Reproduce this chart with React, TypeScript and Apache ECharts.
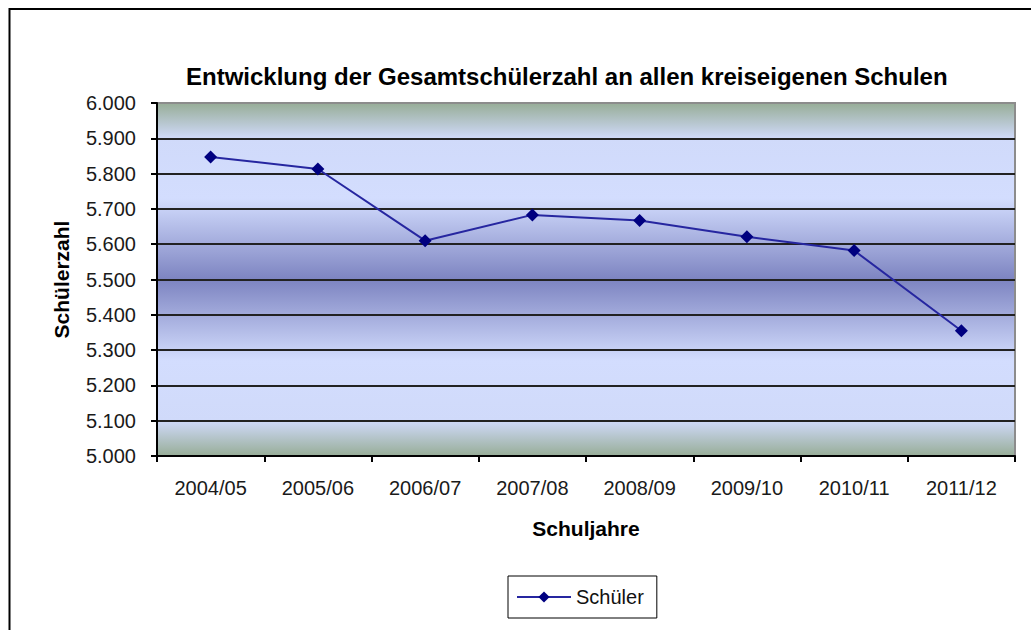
import React, { useEffect, useRef } from "react";
import * as echarts from "echarts";

const categories = ["2004/05", "2005/06", "2006/07", "2007/08", "2008/09", "2009/10", "2010/11", "2011/12"];
const schueler = [5847, 5813, 5610, 5683, 5667, 5621, 5582, 5355];
const yMin = 5000;
const yMax = 6000;
const yStep = 100;

const titleText = "Entwicklung der Gesamtschülerzahl an allen kreiseigenen Schulen";
const xName = "Schuljahre";
const yName = "Schülerzahl";
const seriesName = "Schüler";

const FONT = "'Liberation Sans', Arial, sans-serif";

function fmt(v: number): string {
  const t = Math.floor(v / 1000);
  const r = String(Math.round(v % 1000)).padStart(3, "0");
  return t + "." + r;
}

export default function App() {
  const ref = useRef<HTMLDivElement>(null);
  useEffect(() => {
    if (!ref.current) return;
    const chart = echarts.init(ref.current, undefined, { renderer: "svg" });
    const splitColors: string[] = [];
    for (let v = yMin; v <= yMax; v += yStep) splitColors.push(v === yMax ? "#8c8c8c" : "#222222");
    chart.setOption({
      animation: false,
      backgroundColor: "#ffffff",
      textStyle: { fontFamily: FONT },
      title: {
        text: titleText,
        left: 186,
        top: 64,
        padding: 0,
        textStyle: { fontFamily: FONT, fontSize: 24, fontWeight: "bold", color: "#000" },
      },
      graphic: [
        {
          type: "rect",
          shape: { x: 9.5, y: 9, width: 1200, height: 800 },
          style: { fill: "none", stroke: "#000", lineWidth: 2 },
          silent: true,
          z: 100,
        },
      ],
      grid: {
        left: 157,
        top: 103,
        right: 16,
        bottom: 174,
        show: true,
        borderColor: "#8c8c8c",
        borderWidth: 2,
        backgroundColor: new echarts.graphic.LinearGradient(0, 0, 0, 1, [
          { offset: 0, color: "#97ad97" },
          { offset: 0.1, color: "#d0dafa" },
          { offset: 0.27, color: "#d3ddfe" },
          { offset: 0.5, color: "#7d84c1" },
          { offset: 0.73, color: "#d3ddfe" },
          { offset: 0.9, color: "#d0dafa" },
          { offset: 1, color: "#97ad97" },
        ]),
      },
      legend: {
        data: [seriesName],
        left: 508,
        top: 576,
        orient: "horizontal",
        borderColor: "#000",
        borderWidth: 1,
        padding: [11, 13, 11, 8],
        itemWidth: 54,
        itemHeight: 14,
        textStyle: { fontFamily: FONT, fontSize: 20, color: "#111" },
      },
      xAxis: {
        type: "category",
        data: categories,
        boundaryGap: true,
        name: xName,
        nameLocation: "middle",
        nameGap: 62,
        nameTextStyle: { fontFamily: FONT, fontSize: 21, fontWeight: "bold", color: "#000" },
        axisLine: { show: true, lineStyle: { color: "#000", width: 2 } },
        axisTick: { show: true, inside: false, length: 6, alignWithLabel: false, lineStyle: { color: "#000", width: 2 } },
        axisLabel: { margin: 22, fontFamily: FONT, fontSize: 20, color: "#1a1a1a", interval: 0 },
        splitLine: { show: false },
      },
      yAxis: {
        type: "value",
        min: yMin,
        max: yMax,
        interval: yStep,
        name: yName,
        nameLocation: "middle",
        nameGap: 85,
        nameTextStyle: { fontFamily: FONT, fontSize: 21, fontWeight: "bold", color: "#000" },
        axisLine: { show: true, lineStyle: { color: "#000", width: 2 } },
        axisTick: { show: true, inside: false, length: 6, lineStyle: { color: "#000", width: 2 } },
        axisLabel: { margin: 21, fontFamily: FONT, fontSize: 20, color: "#1a1a1a", formatter: (v: number) => fmt(v) },
        splitLine: { show: true, lineStyle: { color: splitColors, width: 2 } },
      },
      series: [
        {
          name: seriesName,
          type: "line",
          data: schueler,
          symbol: "diamond",
          symbolSize: 13,
          showSymbol: true,
          lineStyle: { color: "#2626a0", width: 2 },
          itemStyle: { color: "#000080" },
        },
      ],
    });
    return () => chart.dispose();
  }, []);
  return <div ref={ref} style={{ position: "fixed", left: 0, top: 0, width: 1031, height: 630 }} />;
}
